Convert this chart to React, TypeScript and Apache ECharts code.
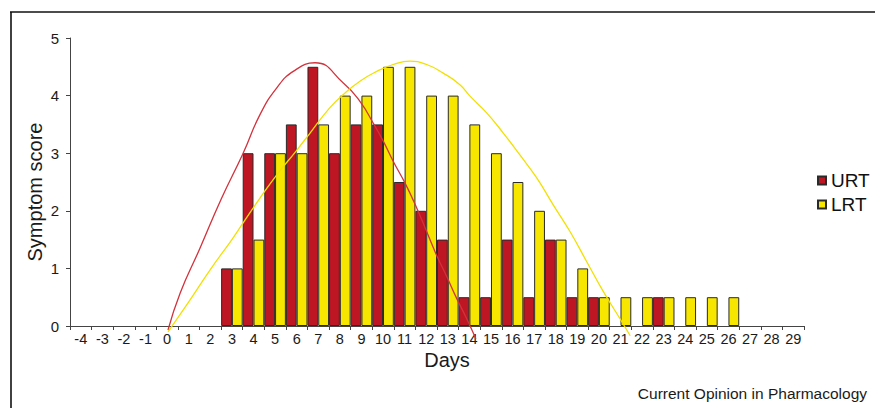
import React, { useEffect, useRef } from "react";
import * as echarts from "echarts";

const days: string[] = [
  "-4", "-3", "-2", "-1", "0", "1", "2", "3", "4", "5", "6", "7", "8", "9", "10", "11", "12",
  "13", "14", "15", "16", "17", "18", "19", "20", "21", "22", "23", "24", "25", "26", "27", "28", "29",
];

// symptom scores per day (-4 … 29)
const urtScores: number[] = [
  0, 0, 0, 0, 0, 0, 0, 1, 3, 3, 3.5, 4.5, 3, 3.5, 3.5, 2.5, 2, 1.5, 0.5, 0.5, 1.5, 0.5, 1.5, 0.5,
  0.5, 0, 0, 0.5, 0, 0, 0, 0, 0, 0,
];
const lrtScores: number[] = [
  0, 0, 0, 0, 0, 0, 0, 1, 1.5, 3, 3, 3.5, 4, 4, 4.5, 4.5, 4, 4, 3.5, 3, 2.5, 2, 1.5, 1, 0.5, 0.5,
  0.5, 0.5, 0.5, 0.5, 0.5, 0, 0, 0,
];

// fitted curves
const urtCurveDays: number[] = [
  0.04, 0.6, 1.52, 2.5, 3.52, 4.3, 5.07, 5.84, 6.85, 8.16, 8.93, 9.55, 10.01, 10.47, 11.02,
  11.56, 12.02, 12.48, 12.95, 13.41, 13.87, 14.3,
];
const urtCurveValues: number[] = [
  -0.07, 0.57, 1.35, 2.2, 3.0, 3.67, 4.13, 4.42, 4.57, 4.22, 3.9, 3.52, 3.21, 2.86, 2.48,
  2.05, 1.64, 1.23, 0.86, 0.48, 0.13, -0.22,
];
const lrtCurveDays: number[] = [
  0.04, 1.0, 2.0, 3.0, 3.52, 4.3, 5.07, 6.0, 6.62, 7.54, 8.16, 8.93, 9.71, 10.47, 11.25, 12.02,
  12.79, 13.56, 14.03, 14.8, 15.57, 16.34, 17.12, 17.89, 18.66, 19.43, 20.2, 20.97, 21.45,
];
const lrtCurveValues: number[] = [
  -0.1, 0.42, 0.98, 1.5, 1.79, 2.22, 2.62, 3.05, 3.35, 3.79, 4.02, 4.25, 4.42, 4.54, 4.6, 4.54,
  4.39, 4.19, 3.99, 3.7, 3.35, 2.97, 2.57, 2.1, 1.64, 1.12, 0.6, 0.13, -0.17,
];

const yTicks: number[] = [0, 1, 2, 3, 4, 5];

const FONT = "'Liberation Sans', Arial, Helvetica, sans-serif";

export default function App() {
  const ref = useRef<HTMLDivElement>(null);

  useEffect(() => {
    document.body.style.margin = "0";
    if (!ref.current) return;
    const chart = echarts.init(ref.current, undefined, { renderer: "svg" });

    const barStyle = (color: string) => ({ color, borderColor: "#2a2a2a", borderWidth: 1 });

    chart.setOption({
      animation: false,
      backgroundColor: "#ffffff",
      textStyle: { fontFamily: FONT },
      grid: { left: 70, right: 71, top: 38, bottom: 82, containLabel: false },
      legend: {
        data: ["URT", "LRT"],
        orient: "vertical",
        left: 812,
        top: 166,
        icon: "rect",
        itemWidth: 8,
        itemHeight: 8,
        itemGap: 5,
        textStyle: { fontSize: 19, lineHeight: 19, color: "#111", fontFamily: FONT },
      },
      xAxis: [
        {
          type: "category",
          data: days,
          boundaryGap: true,
          axisLine: { show: true, onZero: false, lineStyle: { color: "#444", width: 1 } },
          axisTick: { show: true, inside: false, length: 4, lineStyle: { color: "#444" } },
          axisLabel: { interval: 0, fontSize: 14.5, color: "#1a1a1a", margin: 5, fontFamily: FONT },
          splitLine: { show: false },
        },
        {
          type: "value",
          min: -4.5,
          max: 29.5,
          show: false,
          axisLine: { show: false, onZero: false },
          splitLine: { show: false },
        },
      ],
      yAxis: {
        type: "value",
        min: yTicks[0],
        max: yTicks[yTicks.length - 1],
        interval: 1,
        axisLine: { show: true, onZero: false, lineStyle: { color: "#444", width: 1 } },
        axisTick: { show: true, length: 4, lineStyle: { color: "#444" } },
        axisLabel: { fontSize: 15, color: "#1a1a1a", margin: 11, fontFamily: FONT },
        splitLine: { show: false },
      },
      series: [
        {
          name: "URT",
          type: "bar",
          xAxisIndex: 0,
          barGap: "0%",
          barCategoryGap: "0%",
          itemStyle: barStyle("#be1622"),
          data: urtScores.map((v) => (v === 0 ? null : v)),
        },
        {
          name: "LRT",
          type: "bar",
          xAxisIndex: 0,
          barGap: "0%",
          barCategoryGap: "0%",
          itemStyle: barStyle("#f7e600"),
          data: lrtScores.map((v) => (v === 0 ? null : v)),
        },
        {
          name: "URT fit",
          type: "line",
          xAxisIndex: 1,
          smooth: 0.5,
          showSymbol: false,
          clip: false,
          z: 5,
          lineStyle: { color: "#d2323c", width: 1.3 },
          data: urtCurveDays.map((d, i) => [d, urtCurveValues[i]]),
        },
        {
          name: "LRT fit",
          type: "line",
          xAxisIndex: 1,
          smooth: 0.5,
          showSymbol: false,
          clip: false,
          z: 5,
          lineStyle: { color: "#f2e000", width: 1.3 },
          data: lrtCurveDays.map((d, i) => [d, lrtCurveValues[i]]),
        },
      ],
      graphic: [
        { type: "line", shape: { x1: 10, y1: 12, x2: 875, y2: 12 }, style: { stroke: "#111", lineWidth: 1.6 } },
        { type: "line", shape: { x1: 11, y1: 12, x2: 11, y2: 408 }, style: { stroke: "#111", lineWidth: 1.6 } },
        {
          type: "text",
          x: 35,
          y: 192,
          rotation: Math.PI / 2,
          style: {
            text: "Symptom score",
            fontSize: 20,
            fontFamily: FONT,
            fill: "#1a1a1a",
            textAlign: "center",
            textVerticalAlign: "middle",
          },
        },
        {
          type: "text",
          x: 447,
          y: 360,
          style: {
            text: "Days",
            fontSize: 20,
            fontFamily: FONT,
            fill: "#1a1a1a",
            textAlign: "center",
            textVerticalAlign: "middle",
          },
        },
        {
          type: "text",
          x: 867,
          y: 393,
          style: {
            text: "Current Opinion in Pharmacology",
            fontSize: 15.5,
            fontFamily: FONT,
            fill: "#1a1a1a",
            textAlign: "right",
            textVerticalAlign: "middle",
          },
        },
      ],
    });

    return () => chart.dispose();
  }, []);

  return <div ref={ref} style={{ width: 875, height: 408 }} />;
}
